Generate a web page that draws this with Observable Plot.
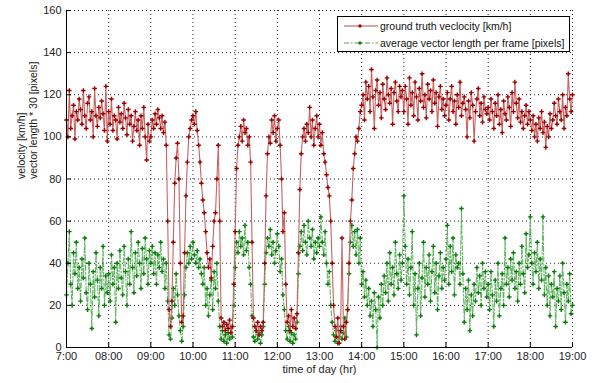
<!DOCTYPE html>
<html>
<head>
<meta charset="utf-8">
<script src="https://cdn.jsdelivr.net/npm/d3@7"></script>
<script src="https://cdn.jsdelivr.net/npm/@observablehq/plot@0.6"></script>
<style>
  html, body { margin: 0; padding: 0; background: #fff; }
  #wrap { position: relative; width: 599px; height: 383px; font-family: "Liberation Sans", Arial, sans-serif; }
  #legend { position: absolute; left: 337px; top: 16px; width: 231px; height: 34px; border: 1px solid #000; background: #fff; font-size: 10.5px; color: #111; }
  #legend .row { position: absolute; left: 0; height: 14px; display: flex; align-items: center; }
  #legend svg { display: block; }
</style>
</head>
<body>
<div id="wrap">
  <div id="chart"></div>
  <div id="legend">
    <div class="row" style="top:2px"><svg width="42" height="14"><line x1="6" x2="40" y1="7" y2="7" stroke="#c04848" stroke-width="1.2"/><path d="M22,5.3V8.7M20.3,7H23.7" stroke="#9a0000" stroke-width="1.5"/></svg><span>ground truth veclocity [km/h]</span></div>
    <div class="row" style="top:19px"><svg width="42" height="14"><line x1="6" x2="40" y1="7" y2="7" stroke="#4aa84a" stroke-width="1.2" stroke-dasharray="5,2,1.5,2"/><path d="M22,5.3V8.7M20.3,7H23.7" stroke="#007a00" stroke-width="1.5"/></svg><span>average vector length per frame [pixels]</span></div>
  </div>
</div>
<script>
// sampling: one value every 2 minutes from 7:00 to 19:00
const startHour = 7;
const stepMinutes = 2;

// ground truth velocity [km/h]
const velocity = [
  108,100,122,104,110,115,99,112,108,118,113,106,122,110,104,116,119,108,112,100,123,110,105,114,109,117,111,103,124,98,
  112,106,118,103,110,108,99,114,107,111,104,116,109,101,113,106,110,98,105,112,103,108,96,110,104,114,100,89,106,98,
  100,108,104,111,106,113,109,104,110,102,107,96,60,18,10,22,50,78,90,97,80,40,12,15,45,72,88,100,104,108,
  110,106,112,103,96,88,78,70,64,55,45,38,42,33,48,60,64,80,96,60,14,10,12,8,11,9,13,7,10,30,
  55,85,96,100,105,98,108,102,104,96,100,88,50,14,10,8,12,6,10,8,12,40,72,92,100,97,108,102,110,98,
  104,108,96,80,55,64,30,12,15,8,18,10,14,9,16,45,75,92,100,104,98,106,102,114,100,108,96,104,110,100,
  106,96,102,92,88,82,76,72,60,40,20,10,5,14,2,8,52,10,4,12,18,40,60,70,85,92,100,98,104,112,
  115,120,108,126,118,124,112,132,119,104,122,127,115,121,109,125,118,113,128,120,116,123,106,121,126,117,112,124,119,122,
  112,124,118,106,128,115,121,110,126,119,108,123,117,130,114,120,109,125,118,122,112,127,116,121,105,119,124,113,118,110,
  115,121,108,118,124,112,117,106,120,114,126,110,116,119,113,100,117,109,121,115,98,112,118,123,110,116,107,119,113,111,
  114,108,118,112,104,116,110,120,106,113,102,117,111,108,119,114,105,121,112,126,116,109,118,107,112,104,110,115,106,112,
  108,103,110,100,106,98,109,104,112,102,107,95,105,100,111,104,108,116,110,106,118,112,108,120,104,114,110,130,118,112,120
];

// average vector length per frame (x30) [pixels]
const vectorLength = [
  25,40,55,30,20,45,35,50,28,38,22,42,33,52,26,18,40,30,9,36,24,45,32,15,38,28,48,20,34,26,
  35,22,44,30,38,12,40,28,46,33,25,48,36,20,42,30,55,38,26,45,34,50,40,28,47,35,52,42,30,46,
  40,48,35,45,30,44,38,50,36,42,28,40,22,6,4,14,28,20,35,25,15,8,3,10,25,38,45,40,48,42,
  50,44,40,46,38,42,35,30,38,20,28,15,25,32,18,36,28,40,22,10,4,8,3,6,2,7,4,9,5,20,
  38,50,45,55,48,52,44,58,46,50,38,30,15,5,3,8,4,7,2,6,10,30,45,52,48,56,44,50,40,46,
  54,48,36,42,25,18,8,4,10,3,7,2,6,4,12,35,48,55,46,58,50,44,60,52,48,56,42,50,45,52,
  48,62,50,44,55,40,30,36,20,12,6,3,8,2,5,10,4,7,14,5,18,35,50,58,48,55,44,56,40,52,
  30,36,24,32,20,28,15,22,10,26,18,0,24,14,30,20,34,26,40,22,45,30,38,25,50,35,28,44,32,40,
  72,48,30,42,25,38,55,20,35,6,28,40,15,33,50,24,38,30,44,22,36,48,26,40,18,34,45,28,38,32,
  42,58,30,48,36,52,25,44,38,40,30,66,35,12,28,18,32,8,25,15,30,22,38,26,34,20,40,28,36,24,
  30,18,36,25,10,32,22,40,15,28,35,20,52,30,38,24,42,32,45,28,36,22,40,30,48,35,26,54,38,44,
  62,40,30,45,36,50,28,42,32,62,25,38,20,34,15,30,24,36,10,28,22,34,18,40,26,12,30,22,35,16,20
];

const xTicks = [7,8,9,10,11,12,13,14,15,16,17,18,19];
const xTickLabels = ["7:00","08:00","09:00","10:00","11:00","12:00","13:00","14:00","15:00","16:00","17:00","18:00","19:00"];
const yTicks = [0,20,40,60,80,100,120,140,160];
const yLabelLines = ["velocity [km/h]", "vector length * 30 [pixels]"];
const xLabel = "time of day (hr)";

const red = velocity.map((v, i) => ({t: startHour + i * stepMinutes / 60, v}));
const green = vectorLength.map((v, i) => ({t: startHour + i * stepMinutes / 60, v}));

const W = 599, H = 383, mL = 66, mR = 27, mT = 10, mB = 36;
const tickLenY = 160 * 5 / (H - mT - mB);
const tickLenX = 12 * 5 / (W - mL - mR);

const chart = Plot.plot({
  width: W, height: H,
  marginLeft: mL, marginRight: mR, marginTop: mT, marginBottom: mB,
  style: {fontFamily: "'Liberation Sans', Arial, sans-serif", fontSize: "11px", color: "#222", background: "#fff", overflow: "visible"},
  x: {domain: [7, 19], ticks: xTicks, tickFormat: d => xTickLabels[xTicks.indexOf(d)], tickSize: 0, tickPadding: 5, label: null},
  y: {domain: [0, 160], ticks: yTicks, tickSize: 0, tickPadding: 5, label: null},
  marks: [
    Plot.ruleX(xTicks.slice(1), {stroke: "#222", strokeDasharray: "1,3", strokeWidth: 1}),
    Plot.ruleY(yTicks.slice(1), {stroke: "#222", strokeDasharray: "1,3", strokeWidth: 1}),
    Plot.line(green, {x: "t", y: "v", stroke: "#62b462", strokeWidth: 1.1, strokeDasharray: "5,2,1.5,2"}),
    Plot.dot(green, {x: "t", y: "v", symbol: "plus", r: 1.6, stroke: "#0a7a0a", strokeWidth: 1.4}),
    Plot.line(red, {x: "t", y: "v", stroke: "#c86464", strokeWidth: 1.1}),
    Plot.dot(red, {x: "t", y: "v", symbol: "plus", r: 1.6, stroke: "#9a0000", strokeWidth: 1.4}),
    Plot.ruleX(xTicks, {y1: 0, y2: tickLenY, stroke: "#000"}),
    Plot.ruleY(yTicks, {x1: 7, x2: 7 + tickLenX, stroke: "#000"}),
    Plot.ruleX([7], {stroke: "#000"}),
    Plot.ruleY([0], {stroke: "#000"}),
    Plot.text([yLabelLines.join("\n")], {frameAnchor: "left", dx: -39, rotate: -90, fontSize: 10.5, lineHeight: 1.15, fill: "#222"}),
    Plot.text([xLabel], {frameAnchor: "bottom", dy: 25, fontSize: 11, fill: "#222"})
  ]
});
document.getElementById("chart").appendChild(chart);
</script>
</body>
</html>
